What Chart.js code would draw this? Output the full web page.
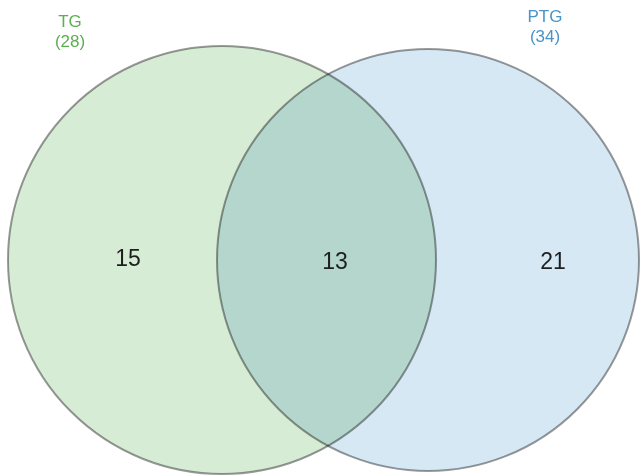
<!DOCTYPE html>
<html>
<head>
<meta charset="utf-8">
<script src="https://cdn.jsdelivr.net/npm/chart.js@4.4.1/dist/chart.umd.min.js"></script>
<style>
    html, body { margin: 0; padding: 0; background: #ffffff; }
    .chart-box { width: 640px; height: 475px; position: relative; }
</style>
</head>
<body>
<div class="chart-box"><canvas id="venn_chart"></canvas></div>
<script>
// data
const setNames = ['TG', 'PTG'];
const setTotals = [28, 34];
const regionNames = ['TG only', 'TG and PTG', 'PTG only'];
const regionCounts = [15, 13, 21];

// layout (units of the hidden x/y scales)
const circleCenters = [[222, 260], [428, 260]];
const circleRadius = [214, 211];
const setLabelPos = [[70, 22], [545, 17]];
const regionLabelPos = [[128, 260], [335, 263], [553, 263]];

const fillColors = ['#d7ecd5', '#d6e8f4'];
const textColors = ['#5cae50', '#4a93c6'];

// radius given in x-scale units -> pixels
function radiusPx(chart, r) {
    const x = chart.scales.x;
    return x.getPixelForValue(r) - x.getPixelForValue(0);
}

// size the set circles from the scale right before drawing,
// and blend the overlap like the original (multiply)
const vennPlugin = {
    id: 'vennCircles',
    beforeDatasetsDraw(chart) {
        chart.data.datasets.forEach(function (d, i) {
            const px = radiusPx(chart, circleRadius[i]);
            chart.getDatasetMeta(i).data.forEach(function (el) {
                el.options = Object.assign({}, el.options, { radius: px });
            });
        });
        chart.ctx.save();
        chart.ctx.globalCompositeOperation = 'multiply';
    },
    afterDatasetsDraw(chart) {
        chart.ctx.restore();
    }
};

const labelPlugin = {
    id: 'vennLabels',
    afterDraw(chart) {
        const ctx = chart.ctx;
        const xs = chart.scales.x, ys = chart.scales.y;
        ctx.save();
        ctx.textAlign = 'center';
        ctx.textBaseline = 'middle';

        ctx.font = "17px 'Liberation Sans', Arial, sans-serif";
        setNames.forEach(function (name, i) {
            const px = xs.getPixelForValue(setLabelPos[i][0]);
            const py = ys.getPixelForValue(setLabelPos[i][1]);
            ctx.fillStyle = textColors[i];
            ctx.fillText(name, px, py);
            ctx.fillText('(' + setTotals[i] + ')', px, py + 20);
        });

        ctx.font = "23px 'Liberation Sans', Arial, sans-serif";
        ctx.fillStyle = '#1e1e1e';
        regionCounts.forEach(function (v, i) {
            ctx.fillText(String(v), xs.getPixelForValue(regionLabelPos[i][0]), ys.getPixelForValue(regionLabelPos[i][1]));
        });
        ctx.restore();
    }
};

const datasets = setNames.map(function (name, i) {
    return {
        label: name + ' (' + setTotals[i] + ')',
        data: [{ x: circleCenters[i][0], y: circleCenters[i][1] }],
        backgroundColor: fillColors[i],
        borderColor: '#9a9a9a',
        borderWidth: 2,
        radius: 1,
        hoverRadius: 0
    };
});

new Chart(document.getElementById('venn_chart'), {
    type: 'bubble',
    data: { datasets: datasets },
    options: {
        responsive: true,
        maintainAspectRatio: false,
        animation: false,
        layout: { padding: 0, autoPadding: false },
        plugins: {
            legend: { display: false },
            tooltip: { enabled: false }
        },
        scales: {
            x: { type: 'linear', min: 0, max: 640, display: false },
            y: { type: 'linear', min: 0, max: 475, reverse: true, display: false }
        }
    },
    plugins: [vennPlugin, labelPlugin]
});
</script>
</body>
</html>
